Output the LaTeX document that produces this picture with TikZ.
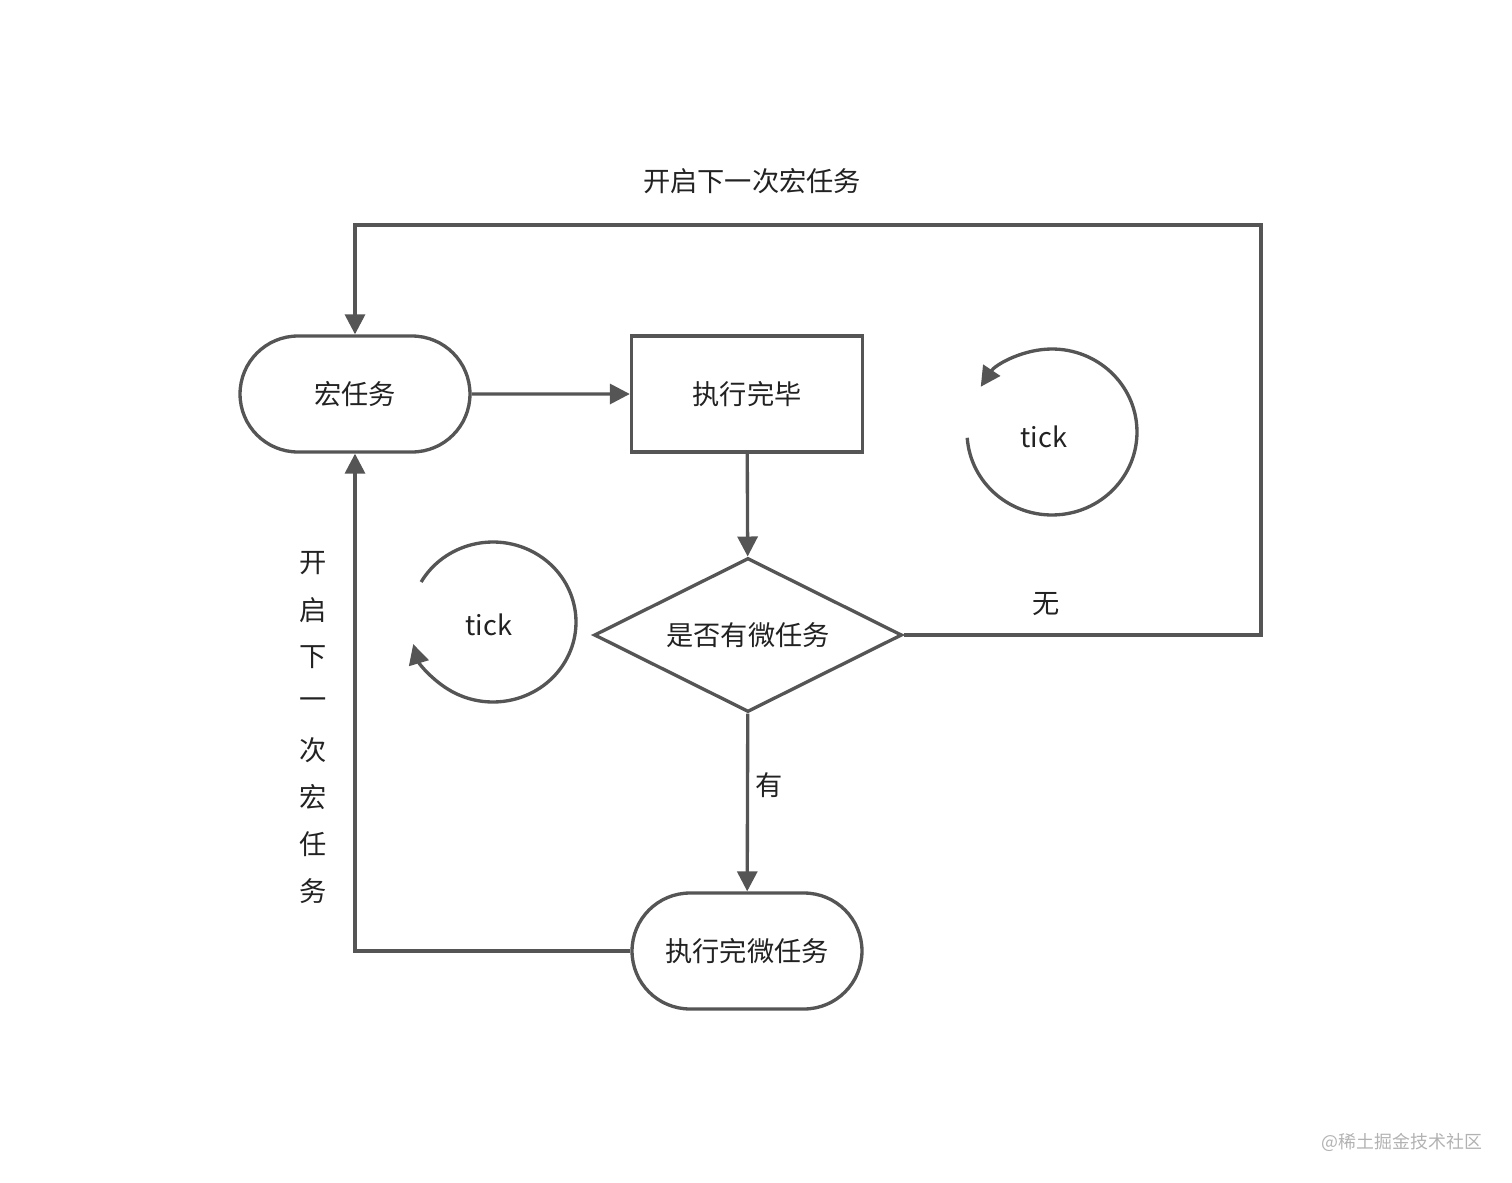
\documentclass[tikz,border=0pt]{standalone}
\usepackage{fontspec}
\setmainfont{Noto Sans CJK SC}
\usetikzlibrary{arrows.meta,shapes.misc,shapes.geometric}
\definecolor{xianse}{HTML}{555555}
\definecolor{zise}{HTML}{222222}
\begin{document}
\begin{tikzpicture}[x=0.02cm,y=-0.02cm,line width=1.9pt,>={Triangle[width=0.4cm,length=0.4cm]},
	font=\fontsize{15.5}{18}\selectfont]
	\tikzset{liucheng/.style={draw=xianse,fill=white,text=zise,inner sep=0pt},
		tuoyuan/.style={liucheng,rounded rectangle,minimum width=4.6cm,minimum height=2.32cm},
		juxing/.style={liucheng,rectangle,minimum width=4.62cm,minimum height=2.32cm},
		lingxing/.style={liucheng,diamond,aspect=2,minimum width=6.16cm,minimum height=3.08cm},
		lianxian/.style={draw=xianse,->},
		wenzi/.style={text=zise}}
	\useasboundingbox (0,0) rectangle (1512,1183);
	% liucheng
	\node[tuoyuan] (hong) at (355,394) {宏任务};
	\node[juxing] (wanbi) at (747,394) {执行完毕};
	\node[lingxing] (panduan) at (748,635) {是否有微任务};
	\node[tuoyuan] (weirenwu) at (747,951) {执行完微任务};
	\coordinate (youshang) at (1261,225);
	% lianxian
	\draw[lianxian] (hong) -- (wanbi);
	\draw[lianxian] (wanbi) -- (panduan);
	\draw[lianxian] (panduan) -- node[wenzi,pos=0.4,right]{有} (weirenwu);
	\draw[lianxian] (panduan.east) -| node[wenzi,pos=0.2,above=7pt]{无} (youshang) -| (hong.north);
	\draw[lianxian] (weirenwu.west) -| (hong.south);
	\node[wenzi] (shangbiao) at (752,181) {开启下一次宏任务};
	\foreach\c [count=\i] in {开,启,下,一,次,宏,任,务}{
		\node[wenzi] (shu\i) at (313,{563+46.9*(\i-1)}) {\c};}
	% tick
	\draw[draw=xianse,->] (1052,432) ++(184:1.7cm and 1.66cm)
		arc[start angle=184,end angle=507,x radius=1.7cm,y radius=1.66cm];
	\node[wenzi] (tick1) at (1044,437) {tick};
	\draw[draw=xianse,->] (493,622) ++(150:1.66cm and 1.6cm)
		arc[start angle=150,end angle=-164,x radius=1.66cm,y radius=1.6cm];
	\node[wenzi] (tick2) at (489,625) {tick};
	\node[text=black!30,font=\fontsize{10.2}{12}\selectfont] (shuiyin) at (1402,1142) {@稀土掘金技术社区};
\end{tikzpicture}
\end{document}
